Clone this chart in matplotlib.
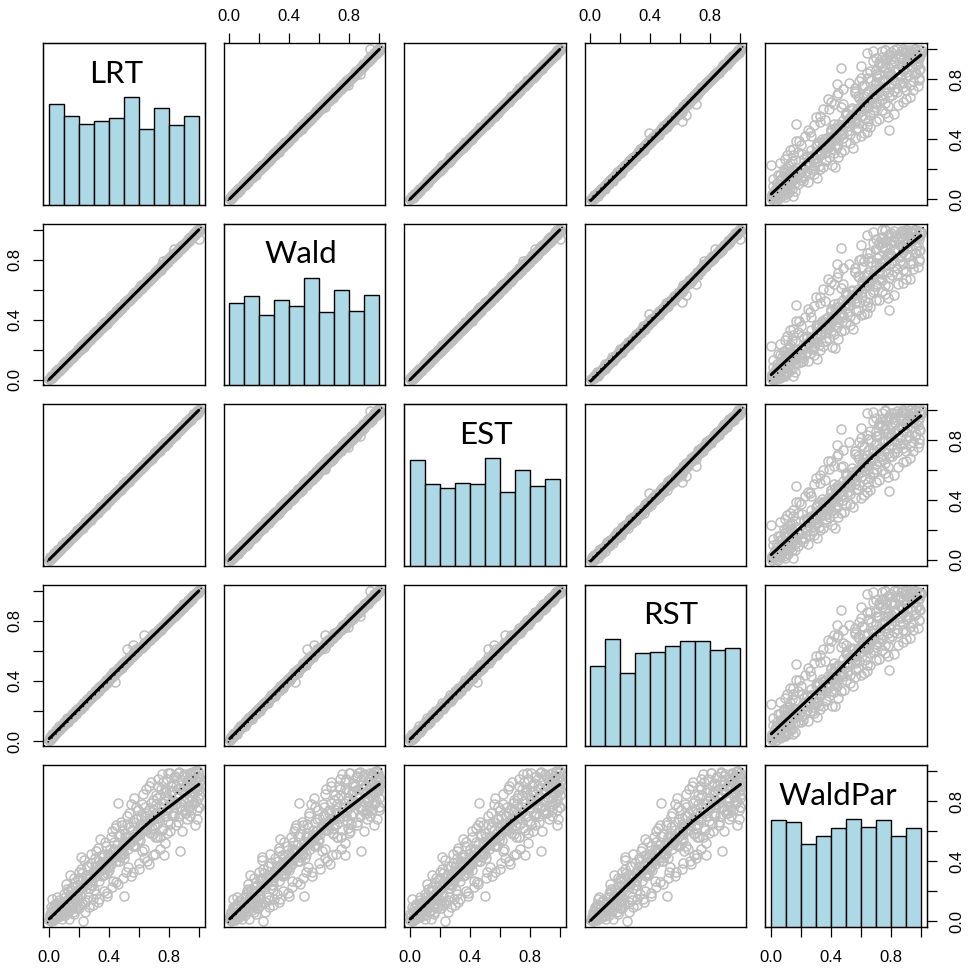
import numpy as np
import matplotlib
matplotlib.use("Agg")
import matplotlib.pyplot as plt

plt.rcParams["font.family"] = ["Liberation Sans", "DejaVu Sans"]

# p-values of the five tests (one entry per simulated data set)
lrt = [
    0.002, 0.006, 0.011, 0.015, 0.019, 0.024, 0.029, 0.033, 0.038, 0.042, 0.047, 0.053, 0.057, 0.062, 0.068, 0.073, 0.079, 0.084, 0.090, 0.096,
    0.101, 0.106, 0.110, 0.116, 0.121, 0.126, 0.130, 0.135, 0.141, 0.146, 0.152, 0.157, 0.161, 0.167, 0.172, 0.178, 0.183, 0.188, 0.193, 0.198,
    0.203, 0.208, 0.214, 0.219, 0.223, 0.228, 0.234, 0.239, 0.244, 0.249, 0.254, 0.259, 0.265, 0.270, 0.275, 0.281, 0.286, 0.290, 0.295, 0.299,
    0.304, 0.309, 0.315, 0.320, 0.325, 0.331, 0.336, 0.341, 0.345, 0.351, 0.356, 0.362, 0.366, 0.372, 0.377, 0.382, 0.387, 0.392, 0.396, 0.401,
    0.406, 0.411, 0.417, 0.422, 0.427, 0.432, 0.438, 0.443, 0.448, 0.453, 0.459, 0.464, 0.468, 0.473, 0.479, 0.484, 0.489, 0.494, 0.498, 0.503,
    0.508, 0.513, 0.519, 0.524, 0.529, 0.534, 0.540, 0.545, 0.550, 0.555, 0.561, 0.566, 0.571, 0.576, 0.581, 0.587, 0.592, 0.597, 0.602, 0.607,
    0.612, 0.618, 0.623, 0.628, 0.633, 0.639, 0.644, 0.649, 0.654, 0.660, 0.665, 0.670, 0.675, 0.680, 0.686, 0.691, 0.696, 0.701, 0.706, 0.712,
    0.717, 0.722, 0.727, 0.733, 0.738, 0.743, 0.748, 0.753, 0.759, 0.764, 0.769, 0.774, 0.779, 0.785, 0.790, 0.795, 0.800, 0.806, 0.811, 0.816,
    0.821, 0.827, 0.832, 0.837, 0.842, 0.848, 0.853, 0.858, 0.863, 0.868, 0.874, 0.879, 0.884, 0.889, 0.895, 0.900, 0.905, 0.910, 0.916, 0.921,
    0.926, 0.931, 0.936, 0.942, 0.947, 0.952, 0.957, 0.962, 0.967, 0.972, 0.976, 0.980, 0.984, 0.988, 0.991, 0.994, 0.996, 0.998, 0.999, 1.000,
    0.004, 0.009, 0.013, 0.017, 0.022, 0.026, 0.031, 0.035, 0.040, 0.045, 0.050, 0.055, 0.060, 0.065, 0.070, 0.076, 0.081, 0.087, 0.093, 0.098,
    0.103, 0.108, 0.113, 0.118, 0.123, 0.128, 0.133, 0.138, 0.143, 0.149, 0.154, 0.159, 0.164, 0.169, 0.175, 0.180, 0.185, 0.190, 0.195, 0.200,
    0.205, 0.211, 0.216, 0.221, 0.226, 0.231, 0.236, 0.241, 0.246, 0.251, 0.257, 0.262, 0.267, 0.272, 0.278, 0.283, 0.288, 0.292, 0.297, 0.302,
    0.307, 0.312, 0.317, 0.322, 0.328, 0.333, 0.338, 0.343, 0.348, 0.353, 0.359, 0.364, 0.369, 0.374, 0.379, 0.384, 0.389, 0.394, 0.398, 0.403,
    0.408, 0.414, 0.419, 0.424, 0.429, 0.435, 0.440, 0.445, 0.450, 0.456, 0.461, 0.466, 0.471, 0.476, 0.481, 0.486, 0.491, 0.496, 0.500, 0.505,
    0.510, 0.516, 0.521, 0.526, 0.531, 0.537, 0.542, 0.547, 0.552, 0.558, 0.563, 0.568, 0.573, 0.578, 0.584, 0.589, 0.594, 0.599, 0.604, 0.609,
    0.615, 0.620, 0.625, 0.630, 0.636, 0.641, 0.646, 0.651, 0.657, 0.662, 0.667, 0.672, 0.677, 0.683, 0.688, 0.693, 0.698, 0.703, 0.709, 0.714,
    0.719, 0.724, 0.730, 0.735, 0.740, 0.745, 0.750, 0.756, 0.761, 0.766, 0.771, 0.776, 0.782, 0.787, 0.792, 0.797, 0.803, 0.808, 0.813, 0.818,
    0.824, 0.829, 0.834, 0.839, 0.845, 0.850, 0.855, 0.860, 0.865, 0.871, 0.876, 0.881, 0.886, 0.892, 0.897, 0.902, 0.907, 0.913, 0.918, 0.923,
    0.928, 0.933, 0.939, 0.944, 0.949, 0.954, 0.959, 0.964, 0.969, 0.974, 0.978, 0.982, 0.986, 0.989, 0.992, 0.995, 0.997, 0.998, 0.999, 0.999,
]
wald = [
    0.004, 0.004, 0.013, 0.011, 0.024, 0.022, 0.031, 0.030, 0.041, 0.043, 0.050, 0.050, 0.059, 0.058, 0.073, 0.071, 0.081, 0.080, 0.093, 0.097,
    0.105, 0.103, 0.111, 0.111, 0.127, 0.125, 0.132, 0.131, 0.144, 0.146, 0.156, 0.154, 0.162, 0.162, 0.178, 0.177, 0.185, 0.184, 0.196, 0.198,
    0.207, 0.205, 0.215, 0.214, 0.229, 0.227, 0.236, 0.235, 0.247, 0.249, 0.258, 0.256, 0.266, 0.265, 0.281, 0.280, 0.288, 0.286, 0.298, 0.299,
    0.308, 0.306, 0.316, 0.315, 0.331, 0.330, 0.338, 0.337, 0.348, 0.351, 0.360, 0.359, 0.367, 0.367, 0.383, 0.381, 0.389, 0.388, 0.399, 0.401,
    0.410, 0.408, 0.418, 0.417, 0.433, 0.431, 0.440, 0.439, 0.451, 0.453, 0.463, 0.461, 0.469, 0.468, 0.485, 0.483, 0.491, 0.490, 0.501, 0.503,
    0.512, 0.510, 0.520, 0.519, 0.535, 0.533, 0.542, 0.541, 0.553, 0.555, 0.565, 0.563, 0.572, 0.571, 0.587, 0.586, 0.594, 0.593, 0.605, 0.607,
    0.635, 0.615, 0.624, 0.623, 0.639, 0.638, 0.646, 0.645, 0.657, 0.660, 0.669, 0.667, 0.676, 0.675, 0.692, 0.690, 0.698, 0.697, 0.709, 0.712,
    0.721, 0.719, 0.728, 0.728, 0.744, 0.742, 0.750, 0.749, 0.790, 0.764, 0.773, 0.771, 0.780, 0.780, 0.796, 0.794, 0.802, 0.802, 0.814, 0.816,
    0.825, 0.824, 0.870, 0.832, 0.848, 0.847, 0.855, 0.854, 0.866, 0.868, 0.878, 0.876, 0.885, 0.884, 0.901, 0.899, 0.907, 0.906, 0.919, 0.921,
    0.930, 0.928, 0.937, 0.937, 0.953, 0.951, 0.959, 0.958, 0.970, 0.972, 0.980, 0.977, 0.985, 0.983, 0.994, 0.993, 0.997, 0.995, 0.940, 1.000,
    0.012, 0.003, 0.024, 0.013, 0.025, 0.016, 0.037, 0.033, 0.049, 0.037, 0.058, 0.049, 0.071, 0.061, 0.073, 0.066, 0.087, 0.085, 0.102, 0.090,
    0.111, 0.102, 0.124, 0.114, 0.126, 0.118, 0.139, 0.136, 0.152, 0.141, 0.162, 0.153, 0.175, 0.165, 0.178, 0.170, 0.191, 0.188, 0.204, 0.192,
    0.213, 0.205, 0.227, 0.217, 0.229, 0.221, 0.242, 0.239, 0.255, 0.243, 0.265, 0.256, 0.278, 0.268, 0.281, 0.273, 0.294, 0.290, 0.306, 0.294,
    0.315, 0.306, 0.328, 0.318, 0.331, 0.323, 0.344, 0.341, 0.357, 0.345, 0.367, 0.358, 0.380, 0.370, 0.382, 0.374, 0.395, 0.392, 0.407, 0.395,
    0.416, 0.408, 0.430, 0.420, 0.432, 0.425, 0.446, 0.443, 0.459, 0.448, 0.469, 0.460, 0.482, 0.472, 0.484, 0.476, 0.497, 0.494, 0.509, 0.497,
    0.518, 0.510, 0.532, 0.522, 0.534, 0.527, 0.548, 0.545, 0.561, 0.550, 0.571, 0.562, 0.584, 0.574, 0.587, 0.579, 0.600, 0.597, 0.613, 0.601,
    0.623, 0.614, 0.636, 0.626, 0.639, 0.631, 0.652, 0.649, 0.666, 0.654, 0.675, 0.666, 0.688, 0.679, 0.691, 0.683, 0.704, 0.701, 0.718, 0.706,
    0.727, 0.718, 0.741, 0.731, 0.743, 0.735, 0.756, 0.754, 0.770, 0.758, 0.779, 0.770, 0.793, 0.783, 0.795, 0.787, 0.809, 0.806, 0.822, 0.810,
    0.832, 0.823, 0.845, 0.835, 0.848, 0.840, 0.861, 0.858, 0.874, 0.863, 0.884, 0.875, 0.897, 0.888, 0.900, 0.892, 0.913, 0.911, 0.927, 0.915,
    0.936, 0.927, 0.950, 0.940, 0.952, 0.944, 0.965, 0.962, 0.978, 0.966, 0.986, 0.976, 0.997, 0.985, 0.995, 0.985, 1.000, 0.996, 0.999, 0.991,
]
est = [
    0.001, 0.008, 0.010, 0.018, 0.017, 0.027, 0.028, 0.036, 0.036, 0.045, 0.046, 0.055, 0.056, 0.065, 0.066, 0.076, 0.077, 0.087, 0.089, 0.099,
    0.100, 0.109, 0.109, 0.119, 0.119, 0.129, 0.129, 0.138, 0.139, 0.149, 0.151, 0.160, 0.160, 0.170, 0.170, 0.181, 0.182, 0.191, 0.192, 0.201,
    0.202, 0.211, 0.213, 0.222, 0.221, 0.231, 0.233, 0.242, 0.242, 0.252, 0.253, 0.262, 0.264, 0.273, 0.273, 0.284, 0.285, 0.293, 0.294, 0.302,
    0.303, 0.312, 0.314, 0.323, 0.323, 0.334, 0.335, 0.344, 0.343, 0.354, 0.355, 0.365, 0.365, 0.375, 0.375, 0.385, 0.386, 0.395, 0.395, 0.404,
    0.405, 0.414, 0.416, 0.425, 0.425, 0.435, 0.437, 0.446, 0.446, 0.456, 0.458, 0.467, 0.467, 0.476, 0.477, 0.487, 0.488, 0.497, 0.497, 0.506,
    0.507, 0.516, 0.518, 0.527, 0.527, 0.537, 0.539, 0.548, 0.548, 0.558, 0.560, 0.569, 0.570, 0.579, 0.579, 0.590, 0.591, 0.600, 0.601, 0.610,
    0.611, 0.621, 0.622, 0.631, 0.631, 0.642, 0.643, 0.652, 0.652, 0.663, 0.664, 0.673, 0.674, 0.683, 0.684, 0.694, 0.695, 0.704, 0.705, 0.715,
    0.716, 0.725, 0.726, 0.736, 0.736, 0.746, 0.747, 0.756, 0.757, 0.767, 0.768, 0.777, 0.778, 0.788, 0.788, 0.798, 0.799, 0.809, 0.810, 0.819,
    0.820, 0.830, 0.831, 0.840, 0.840, 0.851, 0.852, 0.861, 0.861, 0.871, 0.873, 0.882, 0.883, 0.892, 0.893, 0.903, 0.904, 0.913, 0.914, 0.924,
    0.925, 0.934, 0.935, 0.945, 0.945, 0.955, 0.956, 0.965, 0.965, 0.975, 0.975, 0.983, 0.983, 0.991, 0.990, 0.996, 0.995, 0.999, 0.998, 1.000,
    0.001, 0.018, 0.010, 0.023, 0.011, 0.030, 0.026, 0.045, 0.038, 0.052, 0.043, 0.064, 0.057, 0.071, 0.059, 0.080, 0.076, 0.097, 0.091, 0.105,
    0.096, 0.117, 0.110, 0.124, 0.112, 0.132, 0.128, 0.148, 0.141, 0.156, 0.147, 0.168, 0.161, 0.175, 0.164, 0.184, 0.180, 0.200, 0.193, 0.207,
    0.198, 0.220, 0.213, 0.227, 0.215, 0.235, 0.231, 0.251, 0.244, 0.258, 0.250, 0.271, 0.264, 0.278, 0.267, 0.287, 0.283, 0.302, 0.295, 0.309,
    0.300, 0.321, 0.314, 0.328, 0.317, 0.337, 0.333, 0.353, 0.346, 0.360, 0.352, 0.373, 0.366, 0.380, 0.368, 0.388, 0.384, 0.404, 0.396, 0.410,
    0.401, 0.423, 0.416, 0.430, 0.418, 0.439, 0.435, 0.455, 0.448, 0.463, 0.454, 0.475, 0.468, 0.482, 0.470, 0.490, 0.486, 0.506, 0.498, 0.512,
    0.503, 0.525, 0.518, 0.532, 0.520, 0.541, 0.537, 0.557, 0.550, 0.565, 0.556, 0.577, 0.570, 0.584, 0.573, 0.593, 0.589, 0.609, 0.602, 0.616,
    0.608, 0.629, 0.622, 0.636, 0.625, 0.645, 0.641, 0.661, 0.655, 0.669, 0.660, 0.681, 0.674, 0.689, 0.677, 0.697, 0.693, 0.713, 0.707, 0.721,
    0.712, 0.733, 0.727, 0.741, 0.729, 0.749, 0.745, 0.766, 0.759, 0.773, 0.764, 0.785, 0.779, 0.793, 0.781, 0.801, 0.798, 0.818, 0.811, 0.825,
    0.817, 0.838, 0.831, 0.845, 0.834, 0.854, 0.850, 0.870, 0.863, 0.878, 0.869, 0.890, 0.883, 0.898, 0.886, 0.906, 0.902, 0.923, 0.916, 0.930,
    0.921, 0.942, 0.936, 0.950, 0.938, 0.958, 0.954, 0.974, 0.967, 0.981, 0.971, 0.991, 0.983, 0.995, 0.981, 0.999, 0.992, 1.000, 0.997, 1.000,
]
rst = [
    0.005, 0.010, 0.017, 0.022, 0.026, 0.033, 0.038, 0.043, 0.049, 0.053, 0.060, 0.066, 0.071, 0.077, 0.083, 0.089, 0.095, 0.100, 0.107, 0.113,
    0.118, 0.124, 0.126, 0.133, 0.139, 0.143, 0.148, 0.151, 0.159, 0.164, 0.170, 0.174, 0.179, 0.185, 0.190, 0.195, 0.201, 0.206, 0.211, 0.215,
    0.221, 0.225, 0.232, 0.236, 0.241, 0.245, 0.252, 0.256, 0.262, 0.266, 0.272, 0.276, 0.283, 0.287, 0.293, 0.298, 0.304, 0.307, 0.313, 0.316,
    0.322, 0.326, 0.333, 0.337, 0.343, 0.348, 0.354, 0.358, 0.363, 0.368, 0.374, 0.379, 0.384, 0.389, 0.395, 0.399, 0.405, 0.409, 0.414, 0.418,
    0.423, 0.428, 0.433, 0.438, 0.444, 0.448, 0.454, 0.392, 0.464, 0.468, 0.475, 0.479, 0.484, 0.488, 0.494, 0.499, 0.504, 0.509, 0.513, 0.517,
    0.522, 0.527, 0.615, 0.537, 0.543, 0.547, 0.553, 0.558, 0.563, 0.567, 0.640, 0.578, 0.583, 0.587, 0.592, 0.598, 0.603, 0.607, 0.612, 0.617,
    0.620, 0.626, 0.631, 0.635, 0.705, 0.646, 0.651, 0.656, 0.660, 0.666, 0.671, 0.676, 0.680, 0.685, 0.691, 0.695, 0.700, 0.705, 0.709, 0.715,
    0.720, 0.725, 0.730, 0.736, 0.740, 0.745, 0.750, 0.755, 0.761, 0.766, 0.771, 0.776, 0.781, 0.786, 0.791, 0.796, 0.801, 0.807, 0.812, 0.817,
    0.822, 0.828, 0.833, 0.838, 0.843, 0.849, 0.854, 0.859, 0.864, 0.869, 0.875, 0.880, 0.885, 0.890, 0.896, 0.901, 0.906, 0.911, 0.917, 0.922,
    0.927, 0.932, 0.937, 0.943, 0.948, 0.953, 0.958, 0.963, 0.968, 0.973, 0.977, 0.981, 0.985, 0.989, 0.992, 0.995, 0.997, 0.999, 0.999, 1.000,
    0.028, 0.013, 0.032, 0.025, 0.050, 0.028, 0.046, 0.056, 0.046, 0.057, 0.074, 0.059, 0.079, 0.073, 0.098, 0.078, 0.096, 0.108, 0.099, 0.110,
    0.127, 0.112, 0.132, 0.126, 0.151, 0.130, 0.148, 0.159, 0.149, 0.161, 0.178, 0.163, 0.183, 0.177, 0.203, 0.182, 0.200, 0.211, 0.201, 0.212,
    0.229, 0.215, 0.235, 0.229, 0.254, 0.233, 0.251, 0.262, 0.252, 0.263, 0.281, 0.266, 0.286, 0.280, 0.306, 0.285, 0.303, 0.313, 0.303, 0.314,
    0.331, 0.316, 0.336, 0.330, 0.356, 0.335, 0.353, 0.364, 0.354, 0.365, 0.383, 0.368, 0.388, 0.382, 0.407, 0.386, 0.404, 0.415, 0.404, 0.415,
    0.432, 0.418, 0.438, 0.432, 0.457, 0.437, 0.455, 0.466, 0.456, 0.468, 0.485, 0.470, 0.490, 0.484, 0.509, 0.488, 0.506, 0.517, 0.506, 0.517,
    0.534, 0.520, 0.540, 0.534, 0.559, 0.539, 0.557, 0.568, 0.558, 0.570, 0.587, 0.572, 0.592, 0.586, 0.612, 0.591, 0.609, 0.620, 0.610, 0.621,
    0.629, 0.620, 0.637, 0.634, 0.652, 0.639, 0.655, 0.664, 0.659, 0.669, 0.681, 0.672, 0.689, 0.687, 0.704, 0.691, 0.707, 0.716, 0.711, 0.721,
    0.729, 0.718, 0.738, 0.731, 0.752, 0.737, 0.754, 0.765, 0.758, 0.771, 0.781, 0.770, 0.790, 0.783, 0.804, 0.789, 0.807, 0.817, 0.810, 0.823,
    0.834, 0.823, 0.842, 0.835, 0.857, 0.842, 0.859, 0.869, 0.862, 0.876, 0.886, 0.875, 0.894, 0.888, 0.909, 0.894, 0.911, 0.922, 0.915, 0.928,
    0.938, 0.927, 0.947, 0.940, 0.961, 0.946, 0.963, 0.973, 0.966, 0.979, 0.988, 0.976, 0.994, 0.985, 1.000, 0.987, 1.000, 1.000, 0.996, 1.000,
]
waldpar = [
    0.010, 0.035, 0.004, 0.060, 0.022, 0.008, 0.085, 0.030, 0.052, 0.018, 0.110, 0.045, 0.070, 0.026, 0.138, 0.058, 0.092, 0.041, 0.120, 0.075,
    0.128, 0.040, 0.160, 0.090, 0.215, 0.070, 0.118, 0.012, 0.170, 0.205, 0.100, 0.150, 0.060, 0.290, 0.140, 0.190, 0.085, 0.240, 0.150, 0.330,
    0.210, 0.110, 0.430, 0.235, 0.320, 0.002, 0.250, 0.130, 0.290, 0.260, 0.365, 0.160, 0.290, 0.095, 0.300, 0.390, 0.275, 0.270, 0.150, 0.335,
    0.330, 0.420, 0.180, 0.330, 0.490, 0.270, 0.150, 0.365, 0.390, 0.440, 0.300, 0.395, 0.310, 0.530, 0.350, 0.350, 0.190, 0.450, 0.420, 0.400,
    0.400, 0.560, 0.380, 0.230, 0.470, 0.480, 0.620, 0.430, 0.260, 0.510, 0.790, 0.400, 0.400, 0.580, 0.450, 0.450, 0.640, 0.490, 0.170, 0.420,
    0.560, 0.330, 0.650, 0.560, 0.480, 0.720, 0.530, 0.530, 0.300, 0.610, 0.500, 0.820, 0.560, 0.500, 0.680, 0.600, 0.540, 0.740, 0.350, 0.580,
    0.650, 0.470, 0.780, 0.640, 0.420, 0.700, 0.610, 0.880, 0.610, 0.660, 0.380, 0.740, 0.680, 0.930, 0.690, 0.580, 0.810, 0.640, 0.450, 0.720,
    0.780, 0.560, 0.900, 0.690, 0.480, 0.840, 0.730, 0.980, 0.620, 0.790, 0.440, 0.880, 0.700, 0.950, 0.590, 0.820, 0.760, 0.990, 0.650, 0.860,
    0.800, 0.920, 0.700, 0.800, 0.970, 0.780, 0.880, 0.660, 0.830, 0.995, 0.470, 0.760, 0.910, 0.740, 0.860, 0.980, 0.720, 0.900, 0.720, 0.820,
    0.950, 0.760, 0.880, 0.990, 0.740, 0.920, 0.830, 0.970, 0.790, 0.900, 0.999, 0.800, 0.940, 0.680, 0.870, 0.985, 0.760, 0.930, 0.840, 0.960,
    0.050, 0.012, 0.095, 0.030, 0.150, 0.065, 0.006, 0.040, 0.115, 0.078, 0.024, 0.160, 0.055, 0.100, 0.035, 0.130, 0.068, 0.015, 0.105, 0.088,
    0.180, 0.095, 0.250, 0.060, 0.140, 0.200, 0.110, 0.310, 0.075, 0.165, 0.230, 0.120, 0.045, 0.185, 0.260, 0.105, 0.175, 0.130, 0.280, 0.090,
    0.280, 0.170, 0.350, 0.120, 0.230, 0.410, 0.250, 0.060, 0.310, 0.250, 0.140, 0.370, 0.220, 0.290, 0.240, 0.450, 0.240, 0.110, 0.330, 0.205,
    0.360, 0.300, 0.470, 0.370, 0.130, 0.400, 0.340, 0.550, 0.340, 0.310, 0.430, 0.200, 0.380, 0.370, 0.500, 0.320, 0.170, 0.410, 0.360, 0.340,
    0.480, 0.440, 0.600, 0.270, 0.420, 0.530, 0.470, 0.640, 0.400, 0.460, 0.250, 0.570, 0.440, 0.430, 0.660, 0.470, 0.520, 0.290, 0.450, 0.520,
    0.590, 0.510, 0.700, 0.360, 0.520, 0.630, 0.560, 0.780, 0.550, 0.330, 0.660, 0.510, 0.500, 0.760, 0.580, 0.570, 0.690, 0.390, 0.620, 0.540,
    0.700, 0.620, 0.850, 0.610, 0.480, 0.760, 0.640, 0.400, 0.720, 0.660, 0.900, 0.660, 0.590, 0.790, 0.620, 0.440, 0.740, 0.680, 0.560, 0.840,
    0.820, 0.650, 0.950, 0.720, 0.560, 0.880, 0.760, 0.610, 0.930, 0.700, 0.800, 0.520, 0.860, 0.740, 0.990, 0.670, 0.780, 0.600, 0.900, 0.710,
    0.870, 0.720, 0.960, 0.780, 0.640, 0.900, 0.820, 0.990, 0.700, 0.850, 0.760, 0.940, 0.600, 0.880, 0.800, 0.970, 0.740, 0.910, 0.830, 0.680,
    0.910, 0.800, 0.980, 0.700, 0.870, 0.950, 0.780, 0.995, 0.860, 0.640, 0.930, 0.890, 0.740, 0.970, 0.820, 0.999, 0.900, 0.760, 0.960, 0.880,
]

names = ["LRT", "Wald", "EST", "RST", "WaldPar"]

# histogram counts per 0.1-wide bin (full simulation)
bin_edges = [0.0, 0.1, 0.2, 0.3, 0.4, 0.5, 0.6, 0.7, 0.8, 0.9, 1.0]
lrt_counts = [113, 100, 91, 94, 97, 121, 85, 109, 90, 100]
wald_counts = [97, 105, 83, 101, 94, 127, 86, 113, 88, 106]
est_counts = [121, 94, 89, 95, 94, 123, 84, 110, 91, 99]
rst_counts = [84, 113, 77, 98, 99, 105, 110, 110, 101, 103]
waldpar_counts = [108, 106, 84, 92, 100, 109, 101, 108, 92, 100]

variables = [lrt, wald, est, rst, waldpar]
counts = [lrt_counts, wald_counts, est_counts, rst_counts, waldpar_counts]
label_x = [0.451, 0.477, 0.506, 0.532, 0.45]

tick_vals = [0.0, 0.2, 0.4, 0.6, 0.8, 1.0]
tick_labs = ["0.0", "", "0.4", "", "0.8", ""]


def lowess(x, y, f=2 / 3, iters=3):
    x = np.asarray(x, float)
    y = np.asarray(y, float)
    o = np.argsort(x, kind="stable")
    x, y = x[o], y[o]
    n = len(x)
    r = max(2, int(np.ceil(f * n)))
    h = np.array([np.sort(np.abs(x - xi))[r - 1] for xi in x])
    rw = np.ones(n)
    fit = np.zeros(n)
    for _ in range(iters + 1):
        for i in range(n):
            w = np.clip(np.abs(x - x[i]) / h[i], 0, 1)
            w = (1 - w ** 3) ** 3 * rw
            sw = w.sum()
            mx = (w * x).sum() / sw
            my = (w * y).sum() / sw
            vx = (w * (x - mx) ** 2).sum()
            b = (w * (x - mx) * (y - my)).sum() / vx if vx > 1e-12 else 0.0
            fit[i] = my + b * (x[i] - mx)
        res = y - fit
        s = np.median(np.abs(res))
        u = np.clip(res / (6 * s), -1, 1)
        rw = (1 - u ** 2) ** 2
    return x, fit


def data_range(v):
    lo, hi = min(v), max(v)
    pad = 0.04 * (hi - lo)
    return lo - pad, hi + pad


W, H = 970, 968
fig = plt.figure(figsize=(W / 100, H / 100), dpi=100)
fig.patch.set_facecolor("white")

left0, top0, step, size = 43.3, 43.3, 180.5, 161.5
grey = "#BEBEBE"

for i in range(5):
    for j in range(5):
        l = (left0 + j * step) / W
        b = 1 - (top0 + i * step + size) / H
        ax = fig.add_axes([l, b, size / W, size / H])
        ax.set_xlim(data_range(variables[j]))
        ax.set_ylim(data_range(variables[i]))
        for sp in ax.spines.values():
            sp.set_linewidth(1.0)
        ax.set_xticks([])
        ax.set_yticks([])

        if i == j:
            hax = ax.twinx()
            hax.set_ylim(0, 1.5)
            hax.set_yticks([])
            c = np.array(counts[i], float)
            hax.bar(bin_edges[:-1], c / c.max(), width=0.1, align="edge",
                    color="#ADD8E6", edgecolor="black", linewidth=1.0)
            hax.text(label_x[i], 0.757, names[i], transform=hax.transAxes,
                     ha="center", va="baseline", fontsize=22.5, family="Lato")
        else:
            x, y = variables[j], variables[i]
            ax.plot(x, y, "o", mfc="none", mec=grey, ms=6.5, mew=1.1, zorder=1)
            ax.axline((0, 0), slope=1, color="black", lw=1.0,
                      linestyle=(0, (1, 3)), zorder=2)
            sx, sy = lowess(x, y)
            ax.plot(sx, sy, color="black", lw=2.2, zorder=3,
                    solid_capstyle="round")

        ax.tick_params(direction="out", length=7, width=0.9, colors="black",
                       labelsize=12)
        if i == 0 and j % 2 == 1:
            ax.set_xticks(tick_vals, tick_labs)
            ax.tick_params(axis="x", top=True, labeltop=True, bottom=False,
                           labelbottom=False, pad=7)
        if i == 4 and j % 2 == 0:
            ax.set_xticks(tick_vals, tick_labs)
            ax.tick_params(axis="x", pad=10)
        if j == 0 and i % 2 == 1:
            ax.set_yticks(tick_vals, tick_labs, rotation=90, va="center")
            ax.tick_params(axis="y", pad=8)
        if j == 4 and i % 2 == 0:
            ax.set_yticks(tick_vals, tick_labs, rotation=90, va="center")
            ax.tick_params(axis="y", left=False, labelleft=False, right=True,
                           labelright=True, pad=9)

fig.savefig("out.png", dpi=100, facecolor="white")
